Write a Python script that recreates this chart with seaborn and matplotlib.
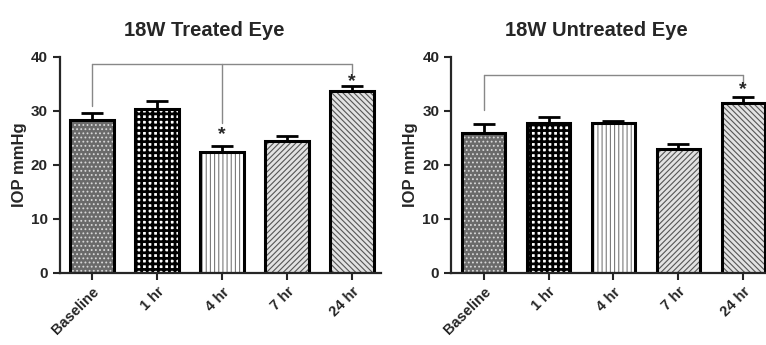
import numpy as np
import matplotlib
matplotlib.use("Agg")
import matplotlib.pyplot as plt
import seaborn as sns

# data
labels = ["Baseline", "1 hr", "4 hr", "7 hr", "24 hr"]
treated_mean = [28.3, 30.4, 22.4, 24.5, 33.7]
treated_sem = [1.3, 1.4, 1.1, 0.9, 0.9]
untreated_mean = [25.9, 27.8, 27.7, 23.0, 31.5]
untreated_sem = [1.7, 1.1, 0.5, 0.8, 1.1]

# significance brackets: (bracket height, drops per bar index), star positions
treated_bracket_y = 38.7
treated_drops = {0: 30.9, 2: 27.8, 4: 37.0}
treated_stars = {2: 25.6, 4: 35.4}
untreated_bracket_y = 36.7
untreated_drops = {0: 30.2, 4: 35.2}
untreated_stars = {4: 33.9}

faces = ["#6a6a6a", "#ffffff", "#ffffff", "#e2e2e2", "#e2e2e2"]
hatch_cols = ["#d8d8d8", "#000000", "#7a7a7a", "#555555", "#555555"]
hatches = ["....", "+++", "||||", "//////", "\\\\\\\\\\\\"]
hatch_lws = [0.8, 2.0, 0.8, 0.8, 0.8]

sns.set_style("ticks")
plt.rcParams["font.family"] = ["Liberation Sans", "DejaVu Sans"]
plt.rcParams["font.weight"] = "bold"
plt.rcParams["hatch.linewidth"] = 0.8

fig = plt.figure(figsize=(7.66, 3.45), dpi=100)
ax1 = fig.add_axes([0.078, 0.209, 0.42, 0.626])
ax2 = fig.add_axes([0.589, 0.209, 0.411, 0.626])


def draw(ax, means, sems, title, bracket_y, drops, stars, xmax, title_x):
    sns.barplot(x=labels, y=means, hue=labels, palette=faces, width=0.67,
                linewidth=0, legend=False, ax=ax)
    for p, h, c, lw in zip(ax.patches, hatches, hatch_cols, hatch_lws):
        p.set_hatch(h)
        p.set_edgecolor(c)
        if hasattr(p, "set_hatch_linewidth"):
            p.set_hatch_linewidth(lw)
    sns.barplot(x=labels, y=means, fill=False, color="black", width=0.67,
                linewidth=2.2, ax=ax)
    ax.errorbar(x=labels, y=means, yerr=[np.zeros(len(sems)), sems], fmt="none",
                ecolor="black", elinewidth=2, capsize=8, capthick=2, zorder=1)

    idx = sorted(drops)
    ax.plot([idx[0], idx[-1]], [bracket_y, bracket_y], color="#888888", lw=1)
    for i, yb in drops.items():
        ax.plot([i, i], [bracket_y, yb], color="#888888", lw=1)
    for i, ys in stars.items():
        ax.text(i, ys, "*", ha="center", va="center", fontsize=14, fontweight="bold")

    ax.set_ylim(0, 40)
    ax.set_xlim(-0.5, xmax)
    ax.set_yticks([0, 10, 20, 30, 40])
    ax.set_ylabel("IOP mmHg", fontsize=12, fontweight="bold", labelpad=3)
    ax.set_title(title, fontsize=14.5, fontweight="bold", pad=15, x=title_x)
    sns.despine(ax=ax)
    for s in ["left", "bottom"]:
        ax.spines[s].set_linewidth(1.6)
    ax.tick_params(axis="both", width=1.5, length=5, labelsize=11)
    ax.set_xticks(range(len(labels)))
    ax.set_xticklabels(labels, rotation=45, ha="right", rotation_mode="anchor",
                       fontsize=10.5, fontweight="bold")


draw(ax1, treated_mean, treated_sem, "18W Treated Eye",
     treated_bracket_y, treated_drops, treated_stars, 4.45, 0.45)
draw(ax2, untreated_mean, untreated_sem, "18W Untreated Eye",
     untreated_bracket_y, untreated_drops, untreated_stars, 4.35, 0.46)

fig.savefig("out.png", dpi=100)
